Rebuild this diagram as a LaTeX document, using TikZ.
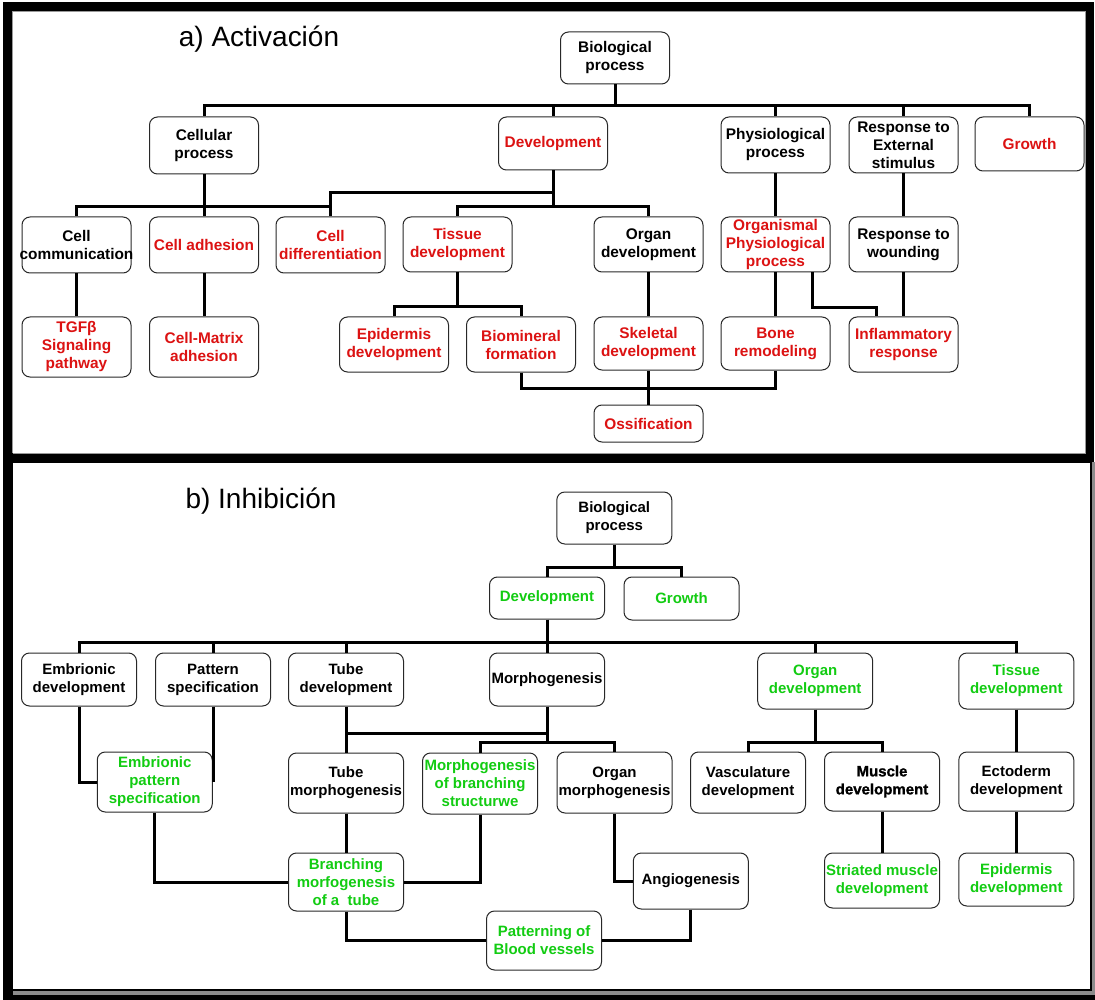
\documentclass[tikz,border=0pt]{standalone}
\usepackage{fontspec}
\setmainfont{Liberation Sans}
\newfontfamily\heavyfont{Liberation Sans}[BoldFeatures={FakeBold=1.2}]
\definecolor{actred}{RGB}{220,18,18}
\definecolor{inhgreen}{RGB}{18,204,18}
\definecolor{boxline}{RGB}{40,40,40}
\tikzset{
  box/.style={draw=boxline, line width=1pt, rounded corners=8pt, fill=white,
    align=center, inner sep=0pt, minimum width=109pt,
    font=\fontsize{15.4}{18}\selectfont\bfseries},
  wbox/.style={box, minimum width=115pt, font=\fontsize{15}{18}\selectfont\bfseries},
  heavy/.style={font=\fontsize{15}{18}\selectfont\heavyfont\bfseries},
  red/.style={text=actred},
  grn/.style={text=inhgreen},
  link/.style={line width=3pt, line join=miter, black},
  frame/.style={line width=9pt, black},
  heading/.style={font=\fontsize{28}{32}\selectfont, inner sep=0pt}
}
\begin{document}
\begin{tikzpicture}[x=1pt, y=-1pt]
\useasboundingbox (0,0) rectangle (1095,1000);
\fill[white] (0,0) rectangle (1095,1000);

% ---------- frames ----------
\draw[frame] (7.5,7) rectangle (1089.5,457.5);
\draw[black!40, line width=0.8pt] (12.5,11.5) rectangle (1085,453);
\fill[black!45] (1092,462) rectangle (1095,1000);
\fill[black!45] (13,991) rectangle (1095,995);
\fill[black] (3,995) rectangle (1095,1000);
\fill[black] (3,453) rectangle (13,1000);
\draw[line width=2pt] (13,462) -- (1091,462) -- (1091,990) -- (13,990);

% ---------- a) Activación ----------
\node[heading] (titleA) at (259,39) {a) Activación};

\node[box, minimum height=52] (bpA) at (615,58) {Biological\\process};

\node[box, minimum height=57] (cellproc) at (204,145.5) {Cellular\\process};
\node[box, red, minimum height=53] (devA) at (553,143.5) {Development};
\node[box, minimum height=56] (physproc) at (775.5,145) {Physiological\\process};
\node[box, minimum height=56] (respext) at (903.5,145) {Response to\\External\\stimulus};
\node[box, red, minimum height=54] (growthA) at (1029.5,144) {Growth};

\node[box, minimum height=56] (cellcomm) at (76.5,245) {Cell\\\makebox[100pt]{communication}};
\node[box, red, minimum height=56] (celladh) at (204,245) {Cell adhesion};
\node[box, red, minimum height=56] (celldiff) at (330.5,245) {Cell\\differentiation};
\node[box, red, minimum height=55] (tissueA) at (457.5,244.5) {Tissue\\development};
\node[box, minimum height=55] (organA) at (648.5,244.5) {Organ\\development};
\node[box, red, minimum height=55] (organism) at (775.5,244.5) {Organismal\\Physiological\\process};
\node[box, minimum height=55] (wound) at (903.5,244.5) {Response to\\wounding};

\node[box, red, minimum height=60] (tgfb) at (76.5,347) {TGFβ\\Signaling\\pathway};
\node[box, red, minimum height=60] (cellmatrix) at (204,347) {Cell-Matrix\\adhesion};
\node[box, red, minimum height=55] (epiA) at (394,344.5) {Epidermis\\development};
\node[box, red, minimum height=55] (biomin) at (521,344.5) {Biomineral\\formation};
\node[box, red, minimum height=53] (skeletal) at (648.5,343.5) {Skeletal\\development};
\node[box, red, minimum height=53] (bone) at (775.5,343.5) {Bone\\remodeling};
\node[box, red, minimum height=55] (inflam) at (903.5,344.5) {Inflammatory\\response};

\node[box, red, minimum height=37] (ossif) at (648.5,423.5) {Ossification};

% connectors of a)
\coordinate (busA) at (615,106);
\coordinate (busC) at (204,207);
\coordinate (busD1) at (553,193);
\coordinate (busD2) at (553,207);
\coordinate (busT) at (457.5,307);
\coordinate (busO) at (648.5,388);

\draw[link] (bpA.south) -- (busA);
\draw[link] (busA) -| (cellproc.north);
\draw[link] (busA) -| (devA.north);
\draw[link] (busA) -| (physproc.north);
\draw[link] (busA) -| (respext.north);
\draw[link] (busA) -| (growthA.north);

\draw[link] (cellproc.south) -- (busC);
\draw[link] (busC) -| (cellcomm.north);
\draw[link] (busC) -- (celladh.north);
\draw[link] (busC) -| (celldiff.north);

\draw[link] (devA.south) -- (busD2);
\draw[link] (busD1) -| (celldiff.north);
\draw[link] (busD2) -| (tissueA.north);
\draw[link] (busD2) -| (organA.north);

\draw[link] (physproc.south) -- (organism.north);
\draw[link] (respext.south) -- (wound.north);

\draw[link] (cellcomm.south) -- (tgfb.north);
\draw[link] (celladh.south) -- (cellmatrix.north);

\draw[link] (tissueA.south) -- (busT);
\draw[link] (busT) -| (epiA.north);
\draw[link] (busT) -| (biomin.north);

\draw[link] (organA.south) -- (skeletal.north);
\draw[link] (organism.south) -- (bone.north);
\draw[link] ([xshift=37]organism.south) -- ++(0,35) -| ([xshift=-27.5]inflam.north);
\draw[link] (wound.south) -- (inflam.north);

\draw[link] (skeletal.south) -- (ossif.north);
\draw[link] (biomin.south) |- (busO) -| (bone.south);

% ---------- b) Inhibición ----------
\node[heading] (titleB) at (261,501) {b) Inhibición};

\node[wbox, minimum height=52] (bpB) at (614.3,518) {Biological\\process};

\node[wbox, grn, minimum height=42] (devB) at (547,598) {Development};
\node[wbox, grn, minimum height=43] (growthB) at (681.5,598.5) {Growth};

\node[wbox, minimum height=53] (embdev) at (79,679.5) {Embrionic\\development};
\node[wbox, minimum height=53] (patspec) at (213,679.5) {Pattern\\specification};
\node[wbox, minimum height=53] (tubedev) at (346,679.5) {Tube\\development};
\node[wbox, minimum height=53] (morph) at (547,679.5) {Morphogenesis};
\node[wbox, grn, minimum height=56] (organB) at (815.2,681) {Organ\\development};
\node[wbox, grn, minimum height=56] (tissueB) at (1016.3,681) {Tissue\\development};

\node[wbox, grn, minimum height=60] (embpat) at (154.75,782) {Embrionic\\pattern\\specification};
\node[wbox, minimum height=60] (tubemorph) at (346,783) {Tube\\morphogenesis};
\node[wbox, grn, minimum height=61] (morphbranch) at (480,783.5) {Morphogenesis\\of branching\\structurwe};
\node[wbox, minimum height=61] (organmorph) at (614.5,782.5) {Organ\\morphogenesis};
\node[wbox, minimum height=61] (vasc) at (748,782.5) {Vasculature\\development};
\node[wbox, heavy, minimum height=59] (muscle) at (882,781.5) {Muscle\\development};
\node[wbox, minimum height=59] (ectoderm) at (1016.3,781.5) {Ectoderm\\development};

\node[wbox, grn, minimum height=58] (branching) at (346,882) {Branching\\morfogenesis\\of a\ \ tube};
\node[wbox, minimum height=56] (angio) at (690.8,881) {Angiogenesis};
\node[wbox, grn, minimum height=55] (striated) at (882,880.5) {Striated muscle\\development};
\node[wbox, grn, minimum height=53] (epiB) at (1016.3,879.5) {Epidermis\\development};

\node[wbox, grn, minimum height=59] (patterning) at (544,940.5) {Patterning of\\Blood vessels};

% connectors of b)
\coordinate (busB) at (614.3,567);
\coordinate (busDev) at (547,642);
\coordinate (tjoin) at (547,733);
\coordinate (mbus) at (547,742);
\coordinate (obus) at (815.2,742);

\draw[link] (bpB.south) -- (busB);
\draw[link] (busB) -| (devB.north);
\draw[link] (busB) -| (growthB.north);

\draw[link] (devB.south) -- (busDev);
\draw[link] (busDev) -| (embdev.north);
\draw[link] (busDev) -| (patspec.north);
\draw[link] (busDev) -| (tubedev.north);
\draw[link] (busDev) -- (morph.north);
\draw[link] (busDev) -| (organB.north);
\draw[link] (busDev) -| (tissueB.north);

\draw[link] (embdev.south) |- (embpat.west);
\draw[link] (patspec.south) -- (patspec.south |- embpat.east);

\draw[link] (tubedev.south) -- (tubemorph.north);
\draw[link] (morph.south) -- (mbus);
\draw[link] (tjoin) -| (tubemorph.north);
\draw[link] (mbus) -| (morphbranch.north);
\draw[link] (mbus) -| (organmorph.north);

\draw[link] (embpat.south) |- (branching.west);
\draw[link] (tubemorph.south) -- (branching.north);
\draw[link] (morphbranch.south) |- (branching.east);
\draw[link] (branching.south) |- (patterning.west);
\draw[link] (organmorph.south) |- (angio.west);
\draw[link] (angio.south) |- (patterning.east);

\draw[link] (organB.south) -- (obus);
\draw[link] (obus) -| (vasc.north);
\draw[link] (obus) -| (muscle.north);
\draw[link] (muscle.south) -- (striated.north);

\draw[link] (tissueB.south) -- (ectoderm.north);
\draw[link] (ectoderm.south) -- (epiB.north);
\end{tikzpicture}
\end{document}
